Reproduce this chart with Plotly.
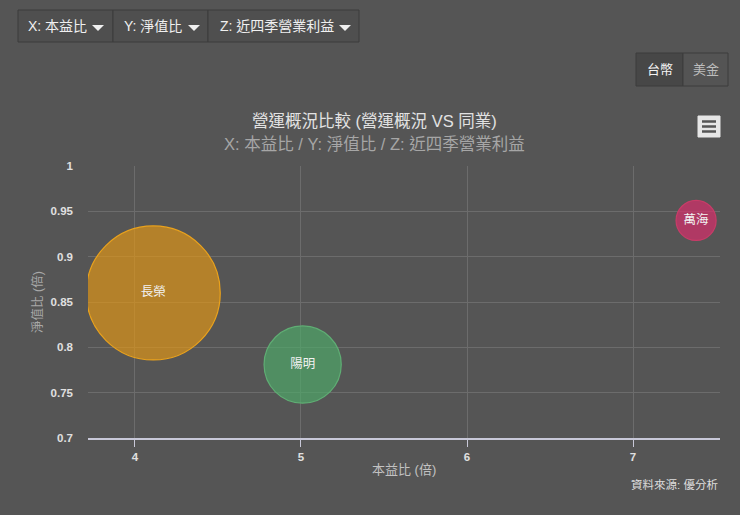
import plotly.graph_objects as go

# ---- data ----
companies = ["長榮", "陽明", "萬海"]
pe_ratio = [4.11, 5.01, 7.38]          # X: 本益比 (倍)
pb_ratio = [0.860, 0.781, 0.940]       # Y: 淨值比 (倍)
op_profit = [2440, 810, 218]           # Z: 近四季營業利益
fill_colors = ["rgba(225,150,22,0.68)", "rgba(78,170,105,0.68)", "rgba(215,45,107,0.7)"]
line_colors = ["#eaa21c", "#5fae74", "#c83c68"]

title_text = "營運概況比較 (營運概況 VS 同業)"
subtitle_text = "X: 本益比 / Y: 淨值比 / Z: 近四季營業利益"
x_title = "本益比 (倍)"
y_title = "淨值比 (倍)"
credit_text = "資料來源: 優分析"
dropdown_labels = ["X: 本益比", "Y: 淨值比", "Z: 近四季營業利益"]
currency_labels = ["台幣", "美金"]

W, H = 740, 515
L, R, T, B = 88, 20, 166, 77
PW, PH = W - L - R, H - T - B
BG = "#555555"
FONT = "Liberation Sans, Noto Sans CJK TC, sans-serif"


def px(x):
    return (x - L) / PW


def py(y):
    return (H - B - y) / PH


fig = go.Figure()
fig.add_trace(go.Scatter(
    x=pe_ratio, y=pb_ratio, text=companies,
    mode="markers+text", textposition="middle center",
    textfont=dict(color="#f2f2f2", size=12.5, family=FONT),
    marker=dict(size=op_profit, sizemode="area", sizeref=2 * max(op_profit) / 134 ** 2,
                opacity=1, color=fill_colors, line=dict(color=line_colors, width=1.2)),
    cliponaxis=True, hoverinfo="text", showlegend=False,
))

shapes = []
annotations = []

# dropdown button group
btn_edges = [18, 113, 208, 359]
tri_x = [92, 188, 339]
text_x = [28, 124, 220]
for i, lab in enumerate(dropdown_labels):
    x0, x1 = btn_edges[i], btn_edges[i + 1]
    shapes.append(dict(type="rect", xref="paper", yref="paper", x0=px(x0), x1=px(x1),
                       y0=py(42), y1=py(10), fillcolor="#4f4f4f",
                       line=dict(color="#3d3d3d", width=1), layer="above"))
    annotations.append(dict(xref="paper", yref="paper", x=px(text_x[i] - 2), y=py(26),
                            xanchor="left", yanchor="middle", text=lab, showarrow=False,
                            font=dict(color="#f0f0f0", size=14, family=FONT)))
    tx = tri_x[i]
    shapes.append(dict(type="path", xref="paper", yref="paper",
                       path=f"M {px(tx)} {py(25)} L {px(tx + 12)} {py(25)} L {px(tx + 6)} {py(31)} Z",
                       fillcolor="#f0f0f0", line=dict(width=0), layer="above"))

# currency toggle
cur_edges = [636, 683, 728]
cur_fill = ["#474747", "#545454"]
cur_font = ["#f4f4f4", "#bdbdbd"]
for i, lab in enumerate(currency_labels):
    x0, x1 = cur_edges[i], cur_edges[i + 1]
    shapes.append(dict(type="rect", xref="paper", yref="paper", x0=px(x0), x1=px(x1),
                       y0=py(86), y1=py(53), fillcolor=cur_fill[i],
                       line=dict(color="#3d3d3d", width=1), layer="above"))
    annotations.append(dict(xref="paper", yref="paper", x=px((x0 + x1) / 2), y=py(69.5),
                            xanchor="center", yanchor="middle", text=lab, showarrow=False,
                            font=dict(color=cur_font[i], size=13, family=FONT)))

# hamburger icon
shapes.append(dict(type="rect", xref="paper", yref="paper", x0=px(698), x1=px(720),
                   y0=py(137), y1=py(116), fillcolor="#e6e6e6",
                   line=dict(color="#e6e6e6", width=1), layer="above"))
for yy in (121.5, 126.5, 131.5):
    shapes.append(dict(type="line", xref="paper", yref="paper", x0=px(702), x1=px(716),
                       y0=py(yy), y1=py(yy), line=dict(color="#555555", width=2.5), layer="above"))

# titles
annotations.append(dict(xref="paper", yref="paper", x=px(374), y=py(121), xanchor="center",
                        yanchor="middle", text=title_text, showarrow=False,
                        font=dict(color="#e2e2e2", size=16.5, family=FONT)))
annotations.append(dict(xref="paper", yref="paper", x=px(374), y=py(144), xanchor="center",
                        yanchor="middle", text=subtitle_text, showarrow=False,
                        font=dict(color="#a6a6a6", size=16.5, family=FONT)))
annotations.append(dict(xref="paper", yref="paper", x=px(404), y=py(469), xanchor="center",
                        yanchor="middle", text=x_title, showarrow=False,
                        font=dict(color="#c2c2c2", size=13, family=FONT)))
annotations.append(dict(xref="paper", yref="paper", x=px(37), y=py(302), xanchor="center",
                        yanchor="middle", text=y_title, showarrow=False, textangle=-90,
                        font=dict(color="#a8a8a8", size=12.5, family=FONT)))
annotations.append(dict(xref="paper", yref="paper", x=px(720), y=py(484), xanchor="right",
                        yanchor="middle", text=credit_text, showarrow=False,
                        font=dict(color="#dddddd", size=11.5, family=FONT)))

fig.update_layout(
    width=W, height=H,
    margin=dict(l=L, r=R, t=T, b=B, autoexpand=False),
    paper_bgcolor=BG, plot_bgcolor=BG,
    font=dict(family=FONT, color="#dddddd"),
    shapes=shapes, annotations=annotations,
    xaxis=dict(range=[3.717, 7.524], dtick=1, tick0=0, showgrid=True, gridcolor="#6c6c6c",
               gridwidth=1, zeroline=False, showline=True, linecolor="#c8c8d8", linewidth=1.5,
               ticks="outside", ticklen=7, tickcolor="#c8c8d8", tickwidth=1,
               tickfont=dict(color="#e0e0e0", size=11.5, family=FONT, weight="bold"),
               fixedrange=True),
    yaxis=dict(range=[0.7, 1.0], dtick=0.05, tick0=0.7, showgrid=True, gridcolor="#6c6c6c",
               gridwidth=1, zeroline=False, showline=False, ticks="",
               ticklabelstandoff=14,
               tickfont=dict(color="#e0e0e0", size=11.5, family=FONT, weight="bold"),
               fixedrange=True),
)

fig.write_html("out.html", config={"displayModeBar": False},
               post_script="document.body.style.margin='0';document.body.style.background='#555555';")
